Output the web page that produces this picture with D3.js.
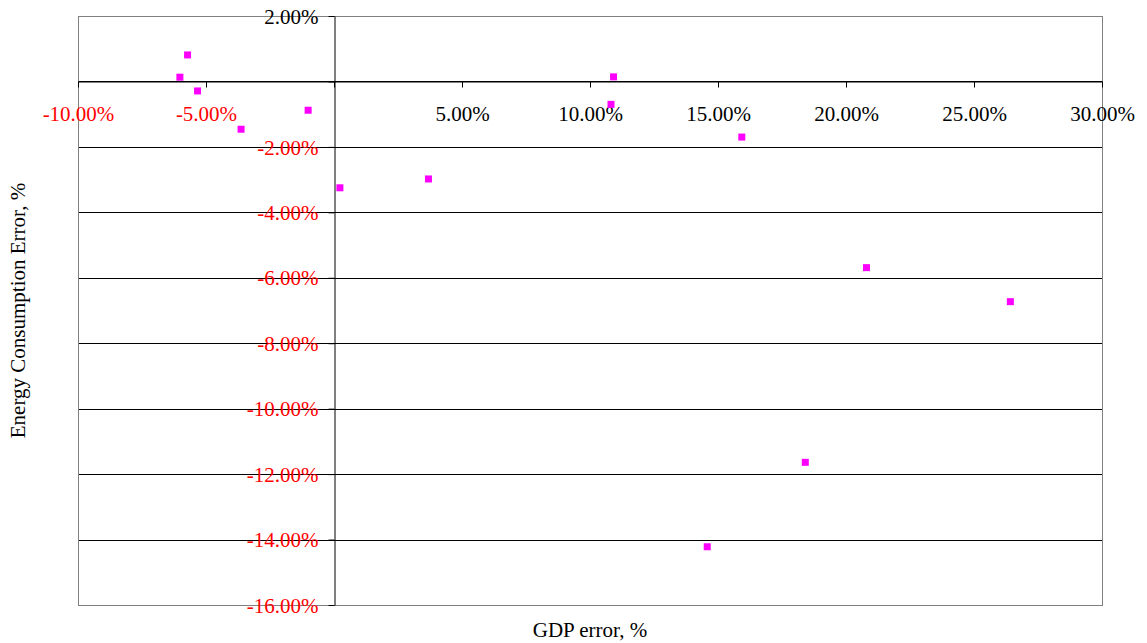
<!DOCTYPE html>
<html>
<head>
<meta charset="utf-8">
<script src="https://cdn.jsdelivr.net/npm/d3@7"></script>
<style>
  html, body { margin: 0; padding: 0; background: #fff; }
  svg { display: block; font-family: "Liberation Serif", "Times New Roman", serif; }
</style>
</head>
<body>
<svg id="chart" width="1147" height="643"></svg>
<script>
// GDP forecast error vs. energy consumption forecast error (both in %)
const gdpError = [-5.72, -6.02, -5.33, -1.01, -3.63, 0.23, 3.69, 10.92, 10.82, 15.93, 20.80, 26.42, 18.41, 14.58];
const energyError = [0.81, 0.13, -0.29, -0.88, -1.46, -3.25, -2.98, 0.14, -0.70, -1.70, -5.69, -6.73, -11.64, -14.22];

const xTicks = [-10, -5, 0, 5, 10, 15, 20, 25, 30];
const yTicks = [2, 0, -2, -4, -6, -8, -10, -12, -14, -16];

const xTitle = "GDP error, %";
const yTitle = "Energy Consumption Error, %";

const svg = d3.select("#chart");
const plot = { left: 78, right: 1102, top: 16, bottom: 605 };

const x = d3.scaleLinear().domain([-10, 30]).range([plot.left, plot.right]);
const y = d3.scaleLinear().domain([2, -16]).range([plot.top, plot.bottom]);

const fmt = v => v.toFixed(2) + "%";
const labelColor = v => (v < 0 ? "#ff0000" : "#000000");

// horizontal gridlines
svg.append("g")
  .selectAll("line")
  .data(yTicks)
  .join("line")
  .attr("x1", plot.left).attr("x2", plot.right)
  .attr("y1", d => Math.round(y(d)) + 0.5).attr("y2", d => Math.round(y(d)) + 0.5)
  .attr("stroke", "#000").attr("stroke-width", 1);

// plot border
svg.append("rect")
  .attr("x", plot.left + 0.5).attr("y", plot.top + 0.5)
  .attr("width", plot.right - plot.left).attr("height", plot.bottom - plot.top)
  .attr("fill", "none").attr("stroke", "#808080").attr("stroke-width", 1);

// y axis through x = 0
const yAxis = svg.append("g")
  .attr("transform", `translate(${Math.round(x(0)) + 0.5},0)`)
  .call(d3.axisLeft(y).tickValues(yTicks).tickFormat(fmt).tickSize(6).tickSizeOuter(0));
yAxis.select(".domain").attr("stroke", "#000");
yAxis.selectAll(".tick line").attr("stroke", "#000");
yAxis.selectAll(".tick text")
  .attr("x", -16)
  .attr("dy", "0.34em")
  .style("font-size", "21px")
  .style("font-family", "'Liberation Serif', 'Times New Roman', serif")
  .attr("fill", d => labelColor(d))
  .style("display", d => (d === 0 ? "none" : null));

// x axis through y = 0
const xAxis = svg.append("g")
  .attr("transform", `translate(0,${Math.round(y(0)) + 0.5})`)
  .call(d3.axisBottom(x).tickValues(xTicks).tickFormat(fmt).tickSize(6).tickSizeOuter(0));
xAxis.select(".domain").attr("stroke", "#000");
xAxis.selectAll(".tick line").attr("stroke", "#000");
xAxis.selectAll(".tick text")
  .attr("y", 39)
  .attr("dy", 0)
  .style("font-size", "21px")
  .style("font-family", "'Liberation Serif', 'Times New Roman', serif")
  .attr("fill", d => labelColor(d))
  .style("display", d => (d === 0 ? "none" : null));

// data points
const pts = gdpError.map((g, i) => ({ g, e: energyError[i] }));
const s = 7;
svg.append("g")
  .selectAll("rect")
  .data(pts)
  .join("rect")
  .attr("x", d => x(d.g) - s / 2)
  .attr("y", d => y(d.e) - s / 2)
  .attr("width", s).attr("height", s)
  .attr("fill", "#ff00ff");

// axis titles
svg.append("text")
  .attr("x", (plot.left + plot.right) / 2)
  .attr("y", 637)
  .attr("text-anchor", "middle")
  .style("font-size", "21px")
  .text(xTitle);

svg.append("text")
  .attr("transform", `translate(25,${(plot.top + plot.bottom) / 2}) rotate(-90)`)
  .attr("text-anchor", "middle")
  .style("font-size", "21px")
  .text(yTitle);
</script>
</body>
</html>
